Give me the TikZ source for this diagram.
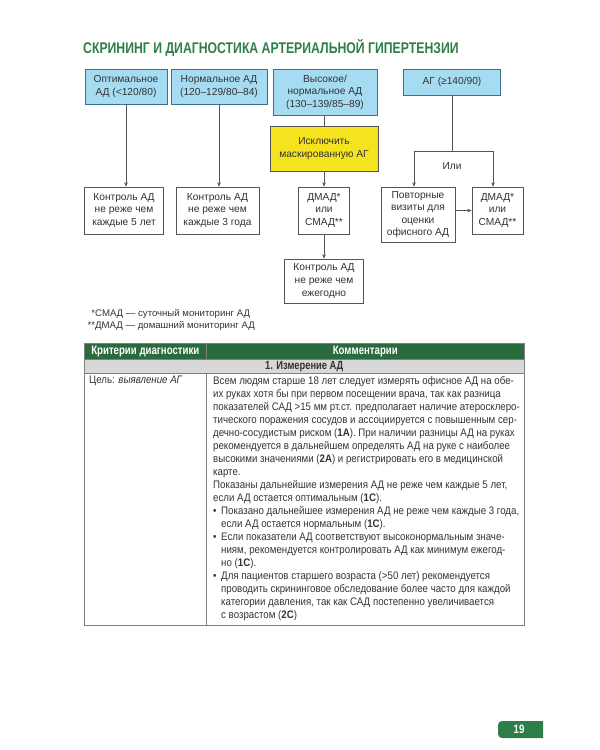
\documentclass[tikz,border=0pt]{standalone}
\usepackage{fontspec}
\setmainfont{Liberation Sans}
\newfontfamily\condfont{Liberation Sans}[FakeStretch=0.89]
\newfontfamily\headfont{Liberation Sans}[FakeStretch=0.79]
\usetikzlibrary{positioning,arrows.meta}
\definecolor{titlegreen}{HTML}{2F7D49}
\definecolor{headgreen}{HTML}{2A6B3D}
\definecolor{bluefill}{HTML}{A6DCF2}
\definecolor{bluedraw}{HTML}{3E6F8E}
\definecolor{yellowfill}{HTML}{F4E31E}
\definecolor{linegray}{HTML}{555555}
\definecolor{textgray}{HTML}{333333}
\definecolor{rowgray}{HTML}{D8D8D8}
\newcommand\bulletmark{\makebox[8pt][l]{\textbullet}}
\newcommand\bulletindent{\hspace*{8pt}}

\begin{document}
\begin{tikzpicture}[
  x=1pt, y=-1pt,
  font=\fontsize{10.2}{12.6}\selectfont,
  >={Stealth[length=4.5pt,width=3.5pt]},
  grade/.style={draw=bluedraw, fill=bluefill, line width=0.7pt, inner sep=0pt, align=center, text=textgray},
  check/.style={draw=linegray, fill=yellowfill, line width=0.7pt, inner sep=0pt, align=center, text=textgray},
  advice/.style={draw=linegray, fill=white, line width=0.6pt, inner sep=0pt, align=center, text=textgray},
  link/.style={draw=linegray, line width=0.5pt},
  flow/.style={link, ->},
  cell/.style={draw=gray, line width=0.6pt, inner sep=0pt},
  celltext/.style={font=\condfont\fontsize{10.9}{13}\selectfont, text=textgray, align=left, inner sep=0pt, anchor=north west},
  headtext/.style={font=\headfont\bfseries\fontsize{12.2}{14}\selectfont},
]
\useasboundingbox (0,0) rectangle (600,750);

% title
\node[anchor=base west, text=titlegreen, font=\headfont\bfseries\fontsize{15.5}{18}\selectfont, inner sep=0pt]
  (title) at (83,53) {СКРИНИНГ И ДИАГНОСТИКА АРТЕРИАЛЬНОЙ ГИПЕРТЕНЗИИ};

% blood pressure levels
\node[grade, minimum width=82pt, minimum height=35pt] (opt) at (126,86.5) {Оптимальное\\АД (<120/80)};
\node[grade, minimum width=96pt, minimum height=35pt] (norm) at (219,86.5) {Нормальное АД\\(120–129/80–84)};
\node[grade, minimum width=104pt, minimum height=46pt] (high) at (325,92) {Высокое/\\нормальное АД\\(130–139/85–89)};
\node[grade, minimum width=97pt, minimum height=26pt] (ag) at (452,82) {АГ (≥140/90)};

\node[check, minimum width=108pt, minimum height=45pt] (mask) at (324,148.5) {Исключить\\маскированную АГ};

% follow-up
\node[advice, minimum width=79pt, minimum height=47pt] (ctrl5) at (124,210.5) {Контроль АД\\не реже чем\\каждые 5 лет};
\node[advice, minimum width=83pt, minimum height=47pt] (ctrl3) at (217.5,210.5) {Контроль АД\\не реже чем\\каждые 3 года};
\node[advice, minimum width=51pt, minimum height=47pt] (dmadA) at (324,210.5) {ДМАД*\\или\\СМАД**};
\node[advice, minimum width=79pt, minimum height=44pt] (ctrl1) at (324,281) {Контроль АД\\не реже чем\\ежегодно};
\node[advice, minimum width=74pt, minimum height=55pt] (visit) at (418,214.5) {Повторные\\визиты для\\оценки\\офисного АД};
\node[advice, minimum width=51pt, minimum height=47pt] (dmadB) at (497.5,210.5) {ДМАД*\\или\\СМАД**};

\coordinate (split) at (452,151);
\node[text=textgray] (or) at (452,166) {Или};

\draw[flow] (opt.south) -- (opt.south |- ctrl5.north);
\draw[flow] (norm.south) -- (norm.south |- ctrl3.north);
\draw[link] (high.south -| mask.north) -- (mask.north);
\draw[flow] (mask.south) -- (dmadA.north);
\draw[flow] (dmadA.south) -- (ctrl1.north);
\draw[link] (ag.south) -- (split);
\draw[flow] (split) -| ([xshift=-4pt]visit.north);
\draw[flow] (split) -| ([xshift=-4.5pt]dmadB.north);
\draw[flow] (visit.east |- dmadB.west) -- (dmadB.west);

% footnotes
\node[anchor=north west, align=left, inner sep=0pt, text=textgray, font=\fontsize{9.6}{12.5}\selectfont]
  (notes) at (95,309) {\llap{*}СМАД — суточный мониторинг АД\\\llap{**}ДМАД — домашний мониторинг АД};

% table
\node[cell, fill=headgreen, minimum width=122pt, minimum height=16pt, anchor=north west] (hdA) at (84,343) {};
\node[cell, fill=headgreen, minimum width=318pt, minimum height=16pt, anchor=north west] (hdB) at (206,343) {};
\node[headtext, text=white] at (hdA) {Критерии диагностики};
\node[headtext, text=white] at (hdB) {Комментарии};
\node[cell, fill=rowgray, minimum width=440pt, minimum height=14pt, anchor=north west] (sect) at (84,359) {};
\node[headtext, text=textgray, font=\headfont\bfseries\fontsize{11.8}{13}\selectfont] at (sect) {1. Измерение АД};
\node[cell, minimum width=122pt, minimum height=252pt, anchor=north west] (bodyA) at (84,373) {};
\node[cell, minimum width=318pt, minimum height=252pt, anchor=north west] (bodyB) at (206,373) {};

\node[celltext] (goal) at (89,376) {Цель: \textit{выявление АГ}};
\node[celltext] (comment) at (213,376) {%
Всем людям старше 18 лет следует измерять офисное АД на обе-\\
их руках хотя бы при первом посещении врача, так как разница\\
показателей САД >15 мм рт.ст. предполагает наличие атеросклеро-\\
тического поражения сосудов и ассоциируется с повышенным сер-\\
дечно-сосудистым риском (\textbf{1A}). При наличии разницы АД на руках\\
рекомендуется в дальнейшем определять АД на руке с наиболее\\
высокими значениями (\textbf{2A}) и регистрировать его в медицинской\\
карте.\\
Показаны дальнейшие измерения АД не реже чем каждые 5 лет,\\
если АД остается оптимальным (\textbf{1C}).\\
\bulletmark Показано дальнейшее измерения АД не реже чем каждые 3 года,\\
\bulletindent если АД остается нормальным (\textbf{1C}).\\
\bulletmark Если показатели АД соответствуют высоконормальным значе-\\
\bulletindent ниям, рекомендуется контролировать АД как минимум ежегод-\\
\bulletindent но (\textbf{1C}).\\
\bulletmark Для пациентов старшего возраста (>50 лет) рекомендуется\\
\bulletindent проводить скрининговое обследование более часто для каждой\\
\bulletindent категории давления, так как САД постепенно увеличивается\\
\bulletindent с возрастом (\textbf{2C})};

% page number
\fill[titlegreen] (543,721) [rounded corners=4pt] -- (498,721) -- (498,738) [sharp corners] -- (543,738) -- cycle;
\node[headtext, text=white] (page) at (519,729.5) {19};
\end{tikzpicture}
\end{document}
